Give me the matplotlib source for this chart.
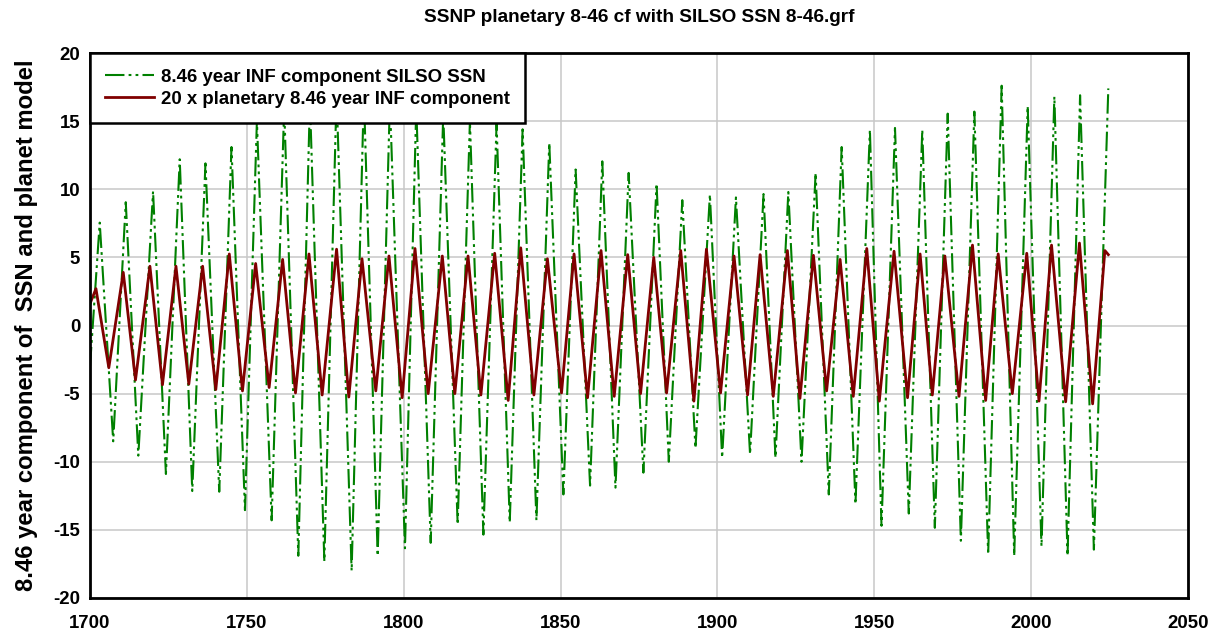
import matplotlib
matplotlib.use("Agg")
import matplotlib.pyplot as plt
from matplotlib import font_manager

# --- data (turning points of each curve) ---
ssn_years = [1700.0, 1703.1, 1707.4, 1711.4, 1715.4, 1720.1, 1724.2, 1728.6, 1732.6, 1736.8,
             1741.2, 1745.1, 1749.4, 1753.2, 1757.9, 1761.9, 1766.4, 1770.1, 1774.7, 1778.6,
             1783.4, 1787.3, 1791.7, 1795.6, 1800.4, 1804.0, 1808.6, 1812.6, 1817.2, 1821.1,
             1825.4, 1829.6, 1833.8, 1837.9, 1842.3, 1846.4, 1850.9, 1854.8, 1859.4, 1863.3,
             1867.5, 1871.7, 1876.4, 1880.6, 1884.5, 1888.8, 1893.0, 1897.6, 1901.5, 1905.9,
             1910.4, 1914.7, 1918.5, 1922.6, 1926.8, 1931.3, 1935.5, 1939.6, 1944.0, 1948.6,
             1952.3, 1956.6, 1961.0, 1965.3, 1969.3, 1973.4, 1977.6, 1981.9, 1986.3, 1990.6,
             1994.6, 1998.9, 2003.3, 2007.4, 2011.6, 2015.6, 2020.0, 2024.6]
ssn_vals = [-3.0, 7.55, -8.5, 9.05, -9.55, 9.85, -10.9, 12.2, -12.15, 11.9,
            -12.2, 13.1, -13.55, 15.0, -14.3, 16.0, -16.9, 16.5, -17.3, 17.0,
            -18.0, 17.0, -16.9, 16.5, -16.35, 16.0, -15.95, 15.5, -14.6, 15.0,
            -15.35, 14.8, -14.45, 14.4, -14.3, 13.4, -12.4, 11.45, -11.75, 12.05,
            -11.9, 11.2, -10.8, 10.4, -10.0, 9.2, -9.0, 9.6, -9.7, 9.4,
            -9.45, 9.65, -9.7, 9.8, -10.0, 11.2, -12.4, 13.1, -13.1, 14.35,
            -14.7, 14.5, -13.8, 14.35, -14.85, 15.55, -15.8, 15.7, -16.8, 17.6,
            -16.9, 16.1, -16.2, 16.8, -16.9, 16.9, -16.45, 17.4]

planet_years = [1700.0, 1701.9, 1706.0, 1710.6, 1714.5, 1719.1, 1723.1, 1727.4, 1731.5, 1735.9,
                1740.1, 1744.4, 1748.6, 1752.8, 1757.1, 1761.4, 1765.5, 1769.8, 1774.0, 1778.6,
                1782.5, 1786.7, 1791.1, 1795.3, 1799.5, 1803.6, 1807.8, 1812.3, 1816.3, 1820.5,
                1824.6, 1829.0, 1833.3, 1837.3, 1841.5, 1845.8, 1850.3, 1854.3, 1858.6, 1862.9,
                1867.1, 1871.4, 1875.5, 1879.7, 1883.8, 1888.3, 1892.5, 1896.5, 1901.0, 1905.3,
                1909.6, 1913.6, 1917.8, 1922.3, 1926.3, 1930.6, 1934.8, 1939.1, 1943.3, 1947.6,
                1951.6, 1956.3, 1960.6, 1964.6, 1968.5, 1972.5, 1977.0, 1981.3, 1985.5, 1989.5,
                1994.0, 1998.6, 2002.5, 2006.5, 2011.0, 2015.4, 2019.6, 2023.5, 2024.6]
planet_vals = [1.6, 2.7, -3.1, 3.9, -4.0, 4.35, -4.35, 4.35, -4.3, 4.35,
               -4.7, 5.25, -4.8, 4.55, -4.55, 4.85, -4.95, 5.25, -5.1, 5.6,
               -5.25, 4.9, -4.8, 5.1, -5.3, 5.65, -5.0, 5.1, -5.0, 5.1,
               -5.1, 5.3, -5.5, 5.7, -5.1, 4.9, -4.95, 5.25, -5.3, 5.5,
               -5.2, 5.2, -5.0, 5.0, -4.95, 5.5, -5.55, 5.6, -4.95, 5.1,
               -5.1, 5.2, -5.2, 5.5, -5.35, 5.15, -4.8, 4.85, -5.2, 5.65,
               -5.55, 5.45, -5.3, 5.25, -5.1, 5.1, -5.2, 5.9, -5.5, 5.25,
               -5.0, 5.3, -5.55, 5.9, -5.6, 6.05, -5.75, 5.5, 5.2]

x_ticks = [1700, 1750, 1800, 1850, 1900, 1950, 2000, 2050]
y_ticks = [-20, -15, -10, -5, 0, 5, 10, 15, 20]

title = "SSNP planetary 8-46 cf with SILSO SSN 8-46.grf"
ylabel = "8.46 year component of  SSN and planet model"
ssn_label = "8.46 year INF component SILSO SSN"
planet_label = "20 x planetary 8.46 year INF component"

# narrow font if we have it, otherwise plain Liberation Sans a bit smaller
names = {f.name for f in font_manager.fontManager.ttflist}
if "Liberation Sans Narrow" in names:
    narrow = "Liberation Sans Narrow"
    k = 1.0
else:
    narrow = "Liberation Sans"
    k = 0.84

plt.rcParams["font.family"] = "Liberation Sans"
plt.rcParams["font.weight"] = "bold"
plt.rcParams["lines.scale_dashes"] = False
plt.rcParams["axes.unicode_minus"] = False

W, H = 1214, 636
fig = plt.figure(figsize=(W / 100, H / 100), dpi=100)
left, right, top, bottom = 90, 1188, 53, 598
ax = fig.add_axes([left / W, 1 - bottom / H, (right - left) / W, (bottom - top) / H])

ax.plot(ssn_years, ssn_vals, color="#008000", lw=1.5,
        dashes=(14, 3, 2, 3, 2, 3), label=ssn_label)
ax.plot(planet_years, planet_vals, color="#800000", lw=2.0, label=planet_label,
        solid_joinstyle="round")

ax.set_xlim(1700, 2050)
ax.set_ylim(-20, 20)
ax.set_xticks(x_ticks)
ax.set_yticks(y_ticks)
ax.grid(True, color="#c8c8c8", lw=1.1)
ax.set_axisbelow(True)
for s in ax.spines.values():
    s.set_linewidth(2.0)
    s.set_color("black")
ax.tick_params(length=0)
ax.tick_params(axis="x", pad=12)
ax.tick_params(axis="y", pad=7)
for t in ax.get_xticklabels() + ax.get_yticklabels():
    t.set_fontfamily(narrow)
    t.set_fontsize(16 * k)
    t.set_fontweight("bold")

leg = ax.legend(loc="upper left", borderaxespad=0, fancybox=False, framealpha=1,
                edgecolor="black", handlelength=2.6, handletextpad=0.35,
                borderpad=0.83, labelspacing=0.27,
                prop={"family": narrow, "size": 16 * k, "weight": "bold"})
leg.get_frame().set_linewidth(1.8)

fig.text((left + right) / 2 / W, 1 - 17 / H, title, ha="center", va="center",
         fontsize=13.7, fontweight="bold")
fig.text(27 / W, 1 - (top + bottom) / 2 / H, ylabel, rotation=90, ha="center", va="center",
         fontsize=20.5 * k, fontweight="bold", fontfamily=narrow)

fig.savefig("out.png", dpi=100)
